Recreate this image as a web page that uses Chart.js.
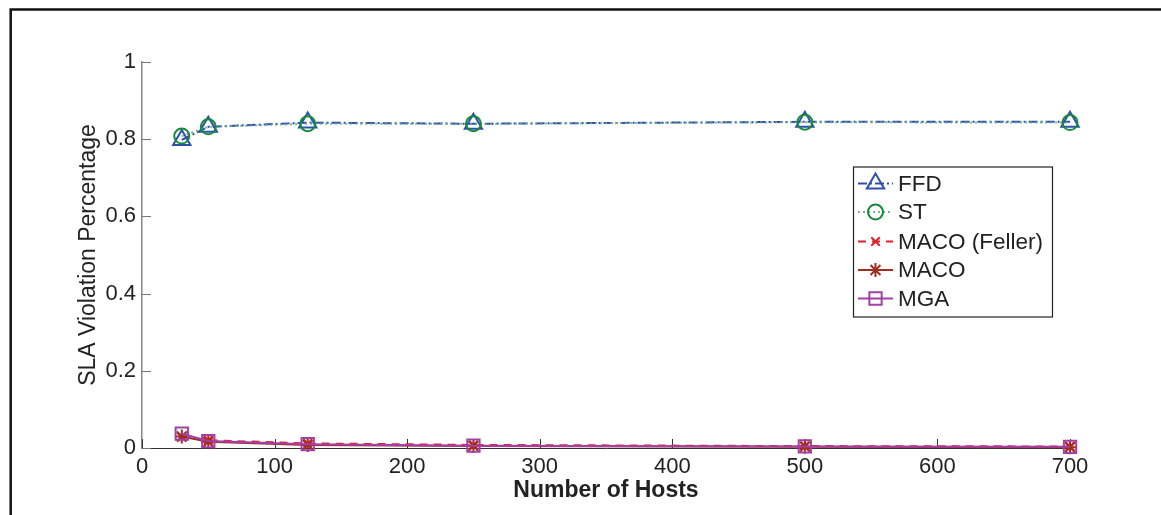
<!DOCTYPE html>
<html><head><meta charset="utf-8">
<script src="https://cdn.jsdelivr.net/npm/chart.js@4.4.1/dist/chart.umd.min.js"></script>
<style>html,body{margin:0;padding:0;background:#fff;overflow:hidden}#wrap{position:relative;width:1161px;height:515px}canvas{display:block}</style>
</head><body><div id="wrap"><canvas id="c" width="1161" height="515"></canvas></div>
<script>
const hosts = [30, 50, 125, 250, 500, 700];
const ffd = [0.798, 0.832, 0.843, 0.840, 0.845, 0.845];
const st = [0.808, 0.832, 0.840, 0.840, 0.844, 0.843];
const macoFeller = [0.028, 0.020, 0.012, 0.008, 0.005, 0.004];
const maco = [0.030, 0.016, 0.008, 0.005, 0.003, 0.002];
const mga = [0.037, 0.018, 0.010, 0.006, 0.004, 0.003];
const seriesNames = ['FFD', 'ST', 'MACO (Feller)', 'MACO', 'MGA'];
const xTicks = [0, 100, 200, 300, 400, 500, 600, 700];
const yTicks = [0, 0.2, 0.4, 0.6, 0.8, 1];
const xTitle = 'Number of Hosts';
const yTitle = 'SLA Violation Percentage';

const FONT = '"Liberation Sans", Arial, Helvetica, sans-serif';
const TXT = '#222';

function pts(vals) { return hosts.map((h, i) => ({x: h, y: vals[i]})); }

const styles = [
  {color: '#2f4fae', dash: [9, 3, 2, 3], point: 'triangle', r: 10, order: 4},
  {color: '#168a3a', dash: [2, 3], point: 'circle', r: 7.5, order: 3, lineColor: 'rgba(110,170,140,0.9)'},
  {color: '#e3202a', dash: [8, 6], point: 'crossRot', r: 6, order: 2},
  {color: '#a02e1e', dash: [], point: 'star', r: 7, order: 1},
  {color: '#a43fa6', dash: [], point: 'rect', r: 8.7, order: 0}
];
const valuesList = [ffd, st, macoFeller, maco, mga];

const datasets = seriesNames.map((name, i) => {
  const s = styles[i];
  return {
    label: name,
    data: pts(valuesList[i]),
    borderColor: s.lineColor || s.color,
    borderWidth: 2,
    borderDash: s.dash,
    pointStyle: s.point,
    pointRadius: s.r,
    pointBorderColor: s.color,
    pointBackgroundColor: 'rgba(0,0,0,0)',
    pointBorderWidth: 2,
    tension: 0,
    fill: false,
    clip: false,
    order: s.order
  };
});

const decor = {
  id: 'decor',
  beforeDraw(chart) {
    const ctx = chart.ctx;
    ctx.save();
    ctx.strokeStyle = '#111';
    ctx.lineWidth = 2.5;
    ctx.beginPath();
    ctx.moveTo(10.7, 515);
    ctx.lineTo(10.7, 9.5);
    ctx.lineTo(1161, 9.5);
    ctx.stroke();
    ctx.restore();
  },
  beforeDatasetsDraw(chart) {
    const ctx = chart.ctx;
    const xs = chart.scales.x, ys = chart.scales.y;
    const ca = chart.chartArea;
    ctx.save();
    ctx.lineWidth = 1;
    ctx.strokeStyle = '#777';
    yTicks.forEach(v => {
      const y = Math.round(ys.getPixelForValue(v)) + 0.5;
      ctx.beginPath(); ctx.moveTo(ca.left, y); ctx.lineTo(ca.left + 9, y); ctx.stroke();
    });
    ctx.strokeStyle = '#333';
    xTicks.forEach(v => {
      const x = Math.round(xs.getPixelForValue(v)) + 0.5;
      ctx.beginPath(); ctx.moveTo(x, ca.bottom); ctx.lineTo(x, ca.bottom - 9); ctx.stroke();
    });
    ctx.restore();
  },
  afterDraw(chart) {
    const ctx = chart.ctx;
    const bx = 853, by = 166.5, bw = 199, bh = 150;
    ctx.save();
    ctx.fillStyle = '#fff';
    ctx.fillRect(bx, by, bw, bh);
    ctx.strokeStyle = '#222';
    ctx.lineWidth = 1.2;
    ctx.strokeRect(bx + 0.5, by + 0.5, bw, bh);
    const rows = [183.5, 212, 241.5, 270, 298.5];
    seriesNames.forEach((name, i) => {
      const s = styles[i];
      const y = rows[i];
      ctx.save();
      ctx.strokeStyle = s.lineColor || s.color;
      ctx.lineWidth = 2;
      ctx.setLineDash(s.dash);
      ctx.beginPath(); ctx.moveTo(858, y); ctx.lineTo(893, y); ctx.stroke();
      ctx.restore();
      ctx.save();
      ctx.strokeStyle = s.color;
      ctx.fillStyle = 'rgba(0,0,0,0)';
      ctx.lineWidth = 2;
      Chart.helpers.drawPoint(ctx, {pointStyle: s.point, radius: s.r, borderWidth: 2, rotation: 0}, 875.5, y);
      ctx.restore();
      ctx.fillStyle = TXT;
      ctx.font = '22.5px ' + FONT;
      ctx.textBaseline = 'middle';
      ctx.textAlign = 'left';
      ctx.fillText(name, 898, y + 1);
    });
    ctx.restore();
  }
};

new Chart(document.getElementById('c'), {
  type: 'line',
  data: {datasets},
  plugins: [decor],
  options: {
    responsive: false,
    animation: false,
    devicePixelRatio: 1,
    layout: {padding: {left: 0, top: 62, right: 91, bottom: 0}},
    plugins: {legend: {display: false}, tooltip: {enabled: false}},
    scales: {
      x: {
        type: 'linear', min: 0, max: 700,
        afterBuildTicks: s => { s.ticks = xTicks.map(v => ({value: v})); },
        afterFit: s => { s.height = 67; },
        grid: {display: false, drawTicks: false},
        border: {display: true, color: '#333', width: 1},
        ticks: {font: {family: FONT, size: 22}, color: TXT, padding: 6, maxRotation: 0, autoSkip: false, callback: v => String(v)},
        title: {display: true, text: xTitle, color: TXT, font: {family: FONT, size: 23, weight: 'bold'}, padding: {top: 0, bottom: 11}}
      },
      y: {
        type: 'linear', min: 0, max: 1,
        afterBuildTicks: s => { s.ticks = yTicks.map(v => ({value: v})); },
        afterFit: s => { s.width = 142; },
        grid: {display: false, drawTicks: false},
        border: {display: true, color: '#888', width: 1.5},
        ticks: {font: {family: FONT, size: 22}, color: TXT, padding: 6, autoSkip: false,
          callback: v => (v === 0 ? '0' : v === 1 ? '1' : Number(v).toFixed(1))},
        title: {display: true, text: yTitle, color: TXT, font: {family: FONT, size: 23}, padding: {top: 75, bottom: 0}}
      }
    }
  }
});
</script></body></html>
